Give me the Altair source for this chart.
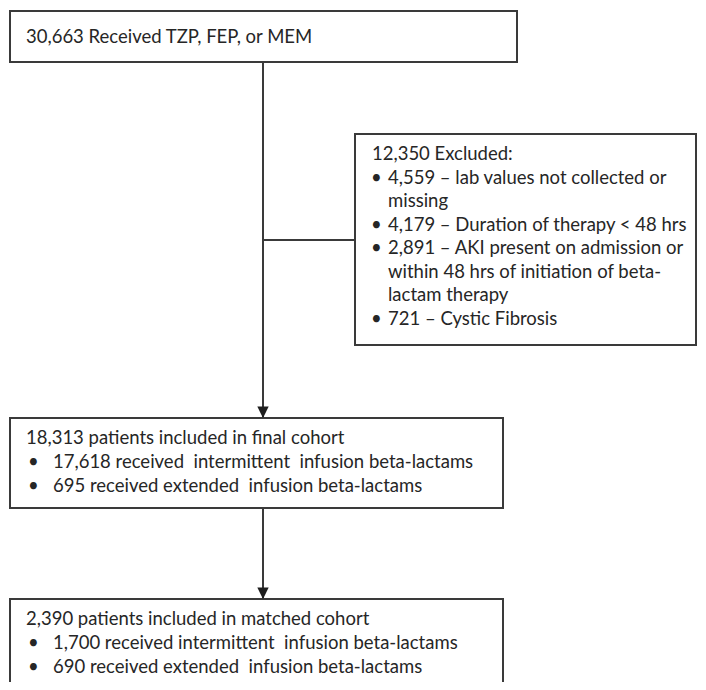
import altair as alt
import pandas as pd

NB = "\u00a0"  # keeps the doubled spaces of the original

# ---- content ----
top_lines = ["30,663 Received TZP, FEP, or MEM"]
excl_header = "12,350 Excluded:"
excl_bullets = [
    ["4,559 \u2013 lab values not collected or", "missing"],
    ["4,179 \u2013 Duration of therapy < 48 hrs"],
    ["2,891 \u2013 AKI present on admission or", "within 48 hrs of initiation of beta-", "lactam therapy"],
    ["721 \u2013 Cystic Fibrosis"],
]
final_header = "18,313 patients included in final cohort"
final_bullets = [
    ["17,618 received " + NB + "intermittent " + NB + "infusion beta-lactams"],
    ["695 received extended " + NB + "infusion beta-lactams"],
]
matched_header = "2,390 patients included in matched cohort"
matched_bullets = [
    ["1,700 received intermittent " + NB + "infusion beta-lactams"],
    ["690 received extended " + NB + "infusion beta-lactams"],
]

# ---- layout (page pixels) ----
LINE = "#3a3a3a"
TXT = "#262626"
FONT = "Lato"
FS = 18.5

boxes = pd.DataFrame([
    dict(x=10, x2=517, y=11, y2=62),
    dict(x=355, x2=696, y=134, y2=345),
    dict(x=10, x2=503, y=418, y2=508),
    dict(x=10, x2=503, y=599, y2=700),
])

rules = pd.DataFrame([
    dict(x=263, x2=263, y=62, y2=418),
    dict(x=263, x2=355, y=240, y2=240),
    dict(x=263, x2=263, y=508, y2=599),
])
heads = pd.DataFrame([dict(x=263, y=418), dict(x=263, y=599)])

rows = []
def add_block(header, bullets, x0, bx, tx, y0, dy):
    rows.append(dict(x=x0, y=y0, text=header))
    y = y0
    for b in bullets:
        for i, t in enumerate(b):
            y += dy
            if i == 0:
                rows.append(dict(x=bx, y=y, text="\u2022"))
            rows.append(dict(x=tx, y=y, text=t))

rows.append(dict(x=26, y=43, text=top_lines[0]))
add_block(excl_header, excl_bullets, 372, 371, 388, 160, 23.5)
add_block(final_header, final_bullets, 26, 28, 53, 444, 24)
add_block(matched_header, matched_bullets, 26, 28, 53, 625, 24)
texts = pd.DataFrame(rows)

X = alt.Scale(domain=[8, 698], nice=False, zero=False)
Y = alt.Scale(domain=[8, 682], nice=False, zero=False, reverse=True)

box_layer = alt.Chart(boxes).mark_rect(
    fill="white", stroke=LINE, strokeWidth=2, clip=True
).encode(
    x=alt.X("x:Q", scale=X, axis=None), x2="x2:Q",
    y=alt.Y("y:Q", scale=Y, axis=None), y2="y2:Q",
)

rule_layer = alt.Chart(rules).mark_rule(color=LINE, strokeWidth=2).encode(
    x=alt.X("x:Q", scale=X, axis=None), x2="x2:Q",
    y=alt.Y("y:Q", scale=Y, axis=None), y2="y2:Q",
)

head_layer = alt.Chart(heads).mark_point(
    shape="M-1,-2L1,-2L0,0Z", filled=True, color="#1e1e1e", opacity=1, size=130
).encode(
    x=alt.X("x:Q", scale=X, axis=None),
    y=alt.Y("y:Q", scale=Y, axis=None),
)

text_layer = alt.Chart(texts).mark_text(
    align="left", baseline="alphabetic", font=FONT, fontSize=FS, color=TXT
).encode(
    x=alt.X("x:Q", scale=X, axis=None),
    y=alt.Y("y:Q", scale=Y, axis=None),
    text="text:N",
)

chart = alt.layer(rule_layer, box_layer, head_layer, text_layer).properties(
    width=690, height=674, padding=0, background="white",
    autosize=alt.AutoSizeParams(type="none"),
).configure_view(stroke=None, strokeWidth=0)

chart.save("out.html", embed_options={"renderer": "svg", "actions": False})
